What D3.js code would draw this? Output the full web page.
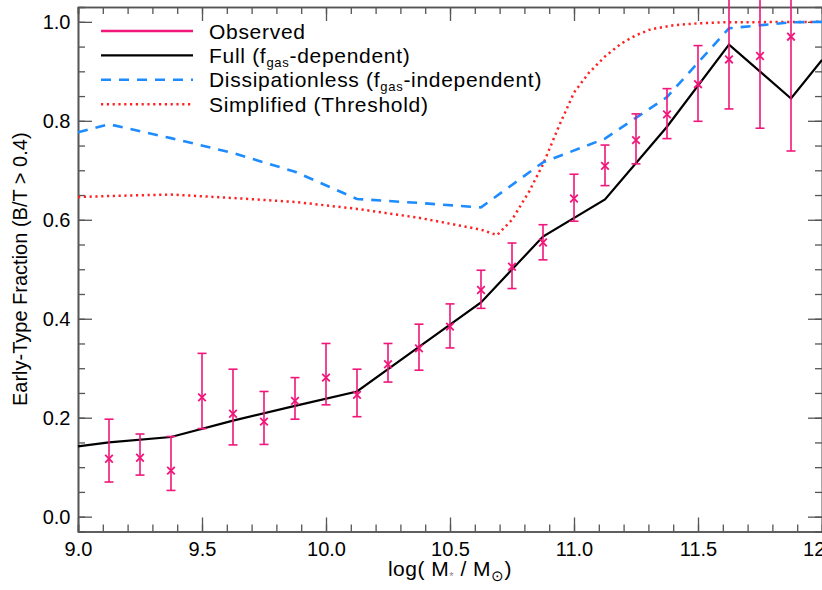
<!DOCTYPE html>
<html>
<head>
<meta charset="utf-8">
<script src="https://cdn.jsdelivr.net/npm/d3@7"></script>
<style>
body { margin: 0; background: #fff; }
svg { display: block; font-family: 'Liberation Sans', Arial, Helvetica, sans-serif; }
</style>
</head>
<body>
<svg width="822" height="590"></svg>
<script>
'use strict'

// observed early-type fraction with error bars
let obsMass = [9.125, 9.25, 9.375, 9.5, 9.625, 9.75, 9.875, 10.0, 10.125, 10.25, 10.375, 10.5,
    10.625, 10.75, 10.875, 11.0, 11.125, 11.25, 11.375, 11.5, 11.625, 11.75, 11.875]
let obsFrac = [0.117, 0.119, 0.093, 0.241, 0.208, 0.192, 0.234, 0.281, 0.246, 0.308, 0.340, 0.384,
    0.458, 0.505, 0.554, 0.643, 0.709, 0.761, 0.813, 0.874, 0.924, 0.931, 0.970]
let obsLow = [0.070, 0.084, 0.053, 0.178, 0.145, 0.146, 0.197, 0.226, 0.202, 0.272, 0.296, 0.341,
    0.421, 0.461, 0.519, 0.597, 0.669, 0.713, 0.764, 0.799, 0.824, 0.785, 0.739]
let obsHigh = [0.197, 0.167, 0.162, 0.330, 0.298, 0.253, 0.281, 0.350, 0.298, 0.350, 0.389, 0.430,
    0.498, 0.553, 0.590, 0.692, 0.751, 0.814, 0.865, 0.952, 1.100, 1.100, 1.100]

// model curves
let modelMass = [9.0, 9.125, 9.375, 9.625, 9.875, 10.125, 10.375, 10.625, 10.875, 11.125, 11.375, 11.625, 11.875, 12.0]
let fullFrac = [0.142, 0.150, 0.161, 0.194, 0.224, 0.253, 0.343, 0.433, 0.566, 0.641, 0.788, 0.954, 0.845, 0.923]
let dissFrac = [0.777, 0.793, 0.765, 0.735, 0.697, 0.642, 0.634, 0.625, 0.716, 0.764, 0.848, 0.987, 0.999, 1.0]

let simpMass = [9.0, 9.125, 9.375, 9.625, 9.875, 10.125, 10.375, 10.625, 10.69, 10.75, 10.82, 10.875,
    10.94, 11.0, 11.06, 11.125, 11.19, 11.25, 11.31, 11.4, 11.5, 11.6, 12.0]
let simpFrac = [0.646, 0.648, 0.651, 0.644, 0.636, 0.622, 0.604, 0.580, 0.569, 0.600, 0.658, 0.712,
    0.790, 0.857, 0.897, 0.930, 0.956, 0.973, 0.985, 0.993, 0.997, 0.999, 1.0]

let xTicks = [9.0, 9.5, 10.0, 10.5, 11.0, 11.5, 12.0]
let yTicks = [0.0, 0.2, 0.4, 0.6, 0.8, 1.0]

let legendLabels = [
    ['Observed'],
    ['Full (f', 'gas', '-dependent)'],
    ['Dissipationless (f', 'gas', '-independent)'],
    ['Simplified (Threshold)']
]

let pink = '#f0167a',
    blue = '#1e8cff',
    red = '#ff2222',
    axisCol = '#555'

let svg = d3.select('svg')

let x = d3.scaleLinear().domain([9, 12]).range([78, 822])
let y = d3.scaleLinear().domain([-0.03, 1.03]).range([531.5, 7])

let xMinor = d3.range(90, 121).map(function(d) { return d / 10 })
let yMinor = d3.range(0, 21).map(function(d) { return d / 20 })

function styleAxis(g) {
    g.select('.domain').attr('stroke', axisCol).attr('stroke-width', 1.6)
    g.selectAll('.tick line').attr('stroke', axisCol).attr('stroke-width', 1.3)
    g.selectAll('.tick text').attr('fill', '#000').style('font-size', '20px')
}

// bottom
svg.append('g').attr('transform', 'translate(0,' + y.range()[0] + ')')
    .call(d3.axisBottom(x).tickValues(xMinor).tickSize(-7).tickFormat(''))
    .call(styleAxis)
svg.append('g').attr('transform', 'translate(0,' + y.range()[0] + ')')
    .call(d3.axisBottom(x).tickValues(xTicks).tickSizeInner(-14).tickSizeOuter(0)
        .tickPadding(10).tickFormat(d3.format('.1f')))
    .call(styleAxis)

// top
svg.append('g').attr('transform', 'translate(0,' + y.range()[1] + ')')
    .call(d3.axisTop(x).tickValues(xMinor).tickSize(-7).tickFormat(''))
    .call(styleAxis)
svg.append('g').attr('transform', 'translate(0,' + y.range()[1] + ')')
    .call(d3.axisTop(x).tickValues(xTicks).tickSizeInner(-14).tickSizeOuter(0).tickFormat(''))
    .call(styleAxis)

// left
svg.append('g').attr('transform', 'translate(' + x.range()[0] + ',0)')
    .call(d3.axisLeft(y).tickValues(yMinor).tickSize(-7).tickFormat(''))
    .call(styleAxis)
svg.append('g').attr('transform', 'translate(' + x.range()[0] + ',0)')
    .call(d3.axisLeft(y).tickValues(yTicks).tickSizeInner(-14).tickSizeOuter(0)
        .tickPadding(7.5).tickFormat(d3.format('.1f')))
    .call(styleAxis)

// right
svg.append('g').attr('transform', 'translate(' + x.range()[1] + ',0)')
    .call(d3.axisRight(y).tickValues(yMinor).tickSize(-7).tickFormat(''))
    .call(styleAxis)
svg.append('g').attr('transform', 'translate(' + x.range()[1] + ',0)')
    .call(d3.axisRight(y).tickValues(yTicks).tickSizeInner(-14).tickSizeOuter(0).tickFormat(''))
    .call(styleAxis)

// axis titles
svg.append('text')
    .attr('transform', 'translate(20,' + (y.range()[0] + y.range()[1]) / 2 + ') rotate(-90)')
    .attr('text-anchor', 'middle')
    .attr('dy', '0.35em')
    .style('font-size', '20px')
    .text('Early-Type Fraction (B/T > 0.4)')

let xTitle = svg.append('text')
    .attr('x', (x.range()[0] + x.range()[1]) / 2)
    .attr('y', 576)
    .attr('text-anchor', 'middle')
    .style('font-size', '21px')
    .style('letter-spacing', '0.5px')
xTitle.append('tspan').text('log( M')
xTitle.append('tspan').attr('dy', 4).style('font-size', '11px').attr('fill', '#888').text('*')
xTitle.append('tspan').attr('dy', -4).text(' / M')
xTitle.append('tspan').attr('dy', 5).style('font-size', '15px').text('\u2299')
xTitle.append('tspan').attr('dy', -5).text(')')

// model lines
let line = d3.line()
    .x(function(d) { return x(d[0]) })
    .y(function(d) { return y(d[1]) })

svg.append('path')
    .datum(d3.zip(simpMass, simpFrac))
    .attr('d', line)
    .attr('fill', 'none')
    .attr('stroke', red)
    .attr('stroke-width', 2.5)
    .attr('stroke-dasharray', '2.2,3.6')

svg.append('path')
    .datum(d3.zip(modelMass, dissFrac))
    .attr('d', line)
    .attr('fill', 'none')
    .attr('stroke', blue)
    .attr('stroke-width', 2.6)
    .attr('stroke-dasharray', '10,8')

svg.append('path')
    .datum(d3.zip(modelMass, fullFrac))
    .attr('d', line)
    .attr('fill', 'none')
    .attr('stroke', '#000')
    .attr('stroke-width', 2.2)

// observed points
let obs = svg.append('g')
    .selectAll('g')
    .data(d3.range(obsMass.length))
    .enter().append('g')
    .attr('stroke', pink)
    .attr('stroke-width', 1.6)

obs.append('line')
    .attr('x1', function(i) { return x(obsMass[i]) })
    .attr('x2', function(i) { return x(obsMass[i]) })
    .attr('y1', function(i) { return y(obsLow[i]) })
    .attr('y2', function(i) { return y(obsHigh[i]) })
obs.append('line')
    .attr('x1', function(i) { return x(obsMass[i]) - 4.5 })
    .attr('x2', function(i) { return x(obsMass[i]) + 4.5 })
    .attr('y1', function(i) { return y(obsLow[i]) })
    .attr('y2', function(i) { return y(obsLow[i]) })
obs.append('line')
    .attr('x1', function(i) { return x(obsMass[i]) - 4.5 })
    .attr('x2', function(i) { return x(obsMass[i]) + 4.5 })
    .attr('y1', function(i) { return y(obsHigh[i]) })
    .attr('y2', function(i) { return y(obsHigh[i]) })
obs.append('path')
    .attr('stroke-width', 1.8)
    .attr('d', function(i) {
        let cx = x(obsMass[i]), cy = y(obsFrac[i]), s = 3.8
        return 'M' + (cx - s) + ',' + (cy - s) + 'L' + (cx + s) + ',' + (cy + s) +
            'M' + (cx - s) + ',' + (cy + s) + 'L' + (cx + s) + ',' + (cy - s)
    })

// legend
let legendStyles = [
    { stroke: pink, width: 2.4, dash: null },
    { stroke: '#000', width: 2.4, dash: null },
    { stroke: blue, width: 2.6, dash: '10,8' },
    { stroke: red, width: 2.5, dash: '2.2,3.6' }
]

let legend = svg.append('g')
    .selectAll('g')
    .data(legendLabels)
    .enter().append('g')
    .attr('transform', function(d, i) { return 'translate(0,' + (31 + i * 24.4) + ')' })

legend.append('line')
    .attr('x1', 101)
    .attr('x2', 193)
    .attr('stroke', function(d, i) { return legendStyles[i].stroke })
    .attr('stroke-width', function(d, i) { return legendStyles[i].width })
    .attr('stroke-dasharray', function(d, i) { return legendStyles[i].dash })

let legendText = legend.append('text')
    .attr('x', 209)
    .attr('dy', '0.36em')
    .style('font-size', '21px')
    .style('letter-spacing', '0.7px')

legendText.each(function(parts) {
    let t = d3.select(this)
    parts.forEach(function(p, k) {
        let ts = t.append('tspan').text(p)
        if (k === 1) ts.attr('dy', 4).style('font-size', '13px')
        if (k === 2) ts.attr('dy', -4)
    })
})
</script>
</body>
</html>
